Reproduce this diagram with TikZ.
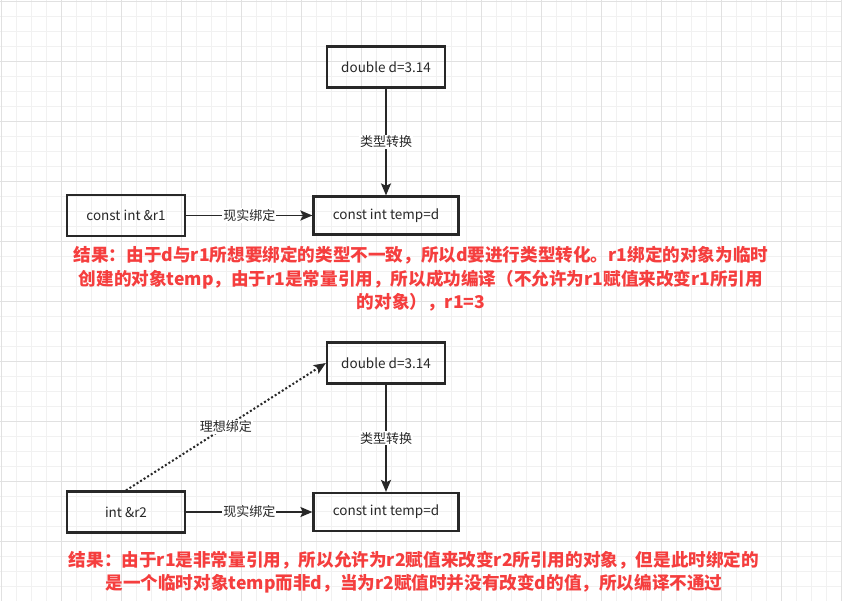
\documentclass[tikz,border=0pt]{standalone}
\usepackage{fontspec}
\setmainfont{Noto Sans CJK SC}
\usetikzlibrary{arrows.meta}

\definecolor{gridminor}{RGB}{241,241,241}
\definecolor{gridmajor}{RGB}{225,225,225}
\definecolor{ink}{RGB}{40,40,40}
\definecolor{notered}{RGB}{245,62,62}

\tikzset{
  var/.style={draw=ink, line width=2.2pt, text=ink, minimum width=118pt, minimum height=41pt,
    inner sep=0pt, font=\fontsize{13.5}{16}\selectfont},
  link/.style={draw=ink, line width=1.7pt, -{Stealth[length=12pt,width=10pt,inset=2.5pt]}},
  tag/.style={fill=white, text=ink, inner sep=1pt, font=\fontsize{13}{15}\selectfont},
  note/.style={text=notered, align=center, font=\fontsize{17.6}{23.5}\selectfont\bfseries}
}

\begin{document}
\begin{tikzpicture}[x=1pt,y=-1pt]
\useasboundingbox (0,0) rectangle (842,601);
\fill[white] (0,0) rectangle (842,601);
% grid
\foreach \i in {0,...,56} \draw[gridminor, line width=0.9pt] ({1.3+15*\i},0) -- ({1.3+15*\i},601);
\foreach \i in {0,...,40} \draw[gridminor, line width=0.9pt] (0,{1.3+15*\i}) -- (842,{1.3+15*\i});
\foreach \i in {0,...,14} \draw[gridmajor, line width=0.9pt] ({1.3+60*\i},0) -- ({1.3+60*\i},601);
\foreach \i in {0,...,10} \draw[gridmajor, line width=0.9pt] (0,{1.3+60*\i}) -- (842,{1.3+60*\i});

% const reference
\node[var] (d1) at (386,67) {double d=3.14};
\node[var] (r1) at (126,215.5) {const int \&r1};
\node[var, minimum width=145pt, minimum height=38pt] (t1) at (386,215.5) {const int temp=d};
\draw[link] (d1) -- node[tag] {类型转换} (t1);
\draw[link] (r1) -- node[tag] {现实绑定} (t1);
\node[note] (n1) at (421,279) {结果：由于d与r1所想要绑定的类型不一致，所以d要进行类型转化。r1绑定的对象为临时\\创建的对象temp，由于r1是常量引用，所以成功编译（不允许为r1赋值来改变r1所引用\\的对象），r1=3};

% plain reference
\node[var] (d2) at (386,363) {double d=3.14};
\node[var] (r2) at (126,512) {int \&r2};
\node[var, minimum width=145pt, minimum height=38pt] (t2) at (386,512) {const int temp=d};
\draw[link] (d2) -- node[tag] {类型转换} (t2);
\draw[link] (r2) -- node[tag] {现实绑定} (t2);
\draw[link, line width=2pt, dash pattern=on 2pt off 2.2pt] (r2.north) -- node[tag] {理想绑定} (d2.west);
\node[note, text depth=0pt] (n2) at (414,570.5) {结果：由于r1是非常量引用，所以允许为r2赋值来改变r2所引用的对象，但是此时绑定的\\是一个临时对象temp而非d，当为r2赋值时并没有改变d的值，所以编译不通过};
\end{tikzpicture}
\end{document}
